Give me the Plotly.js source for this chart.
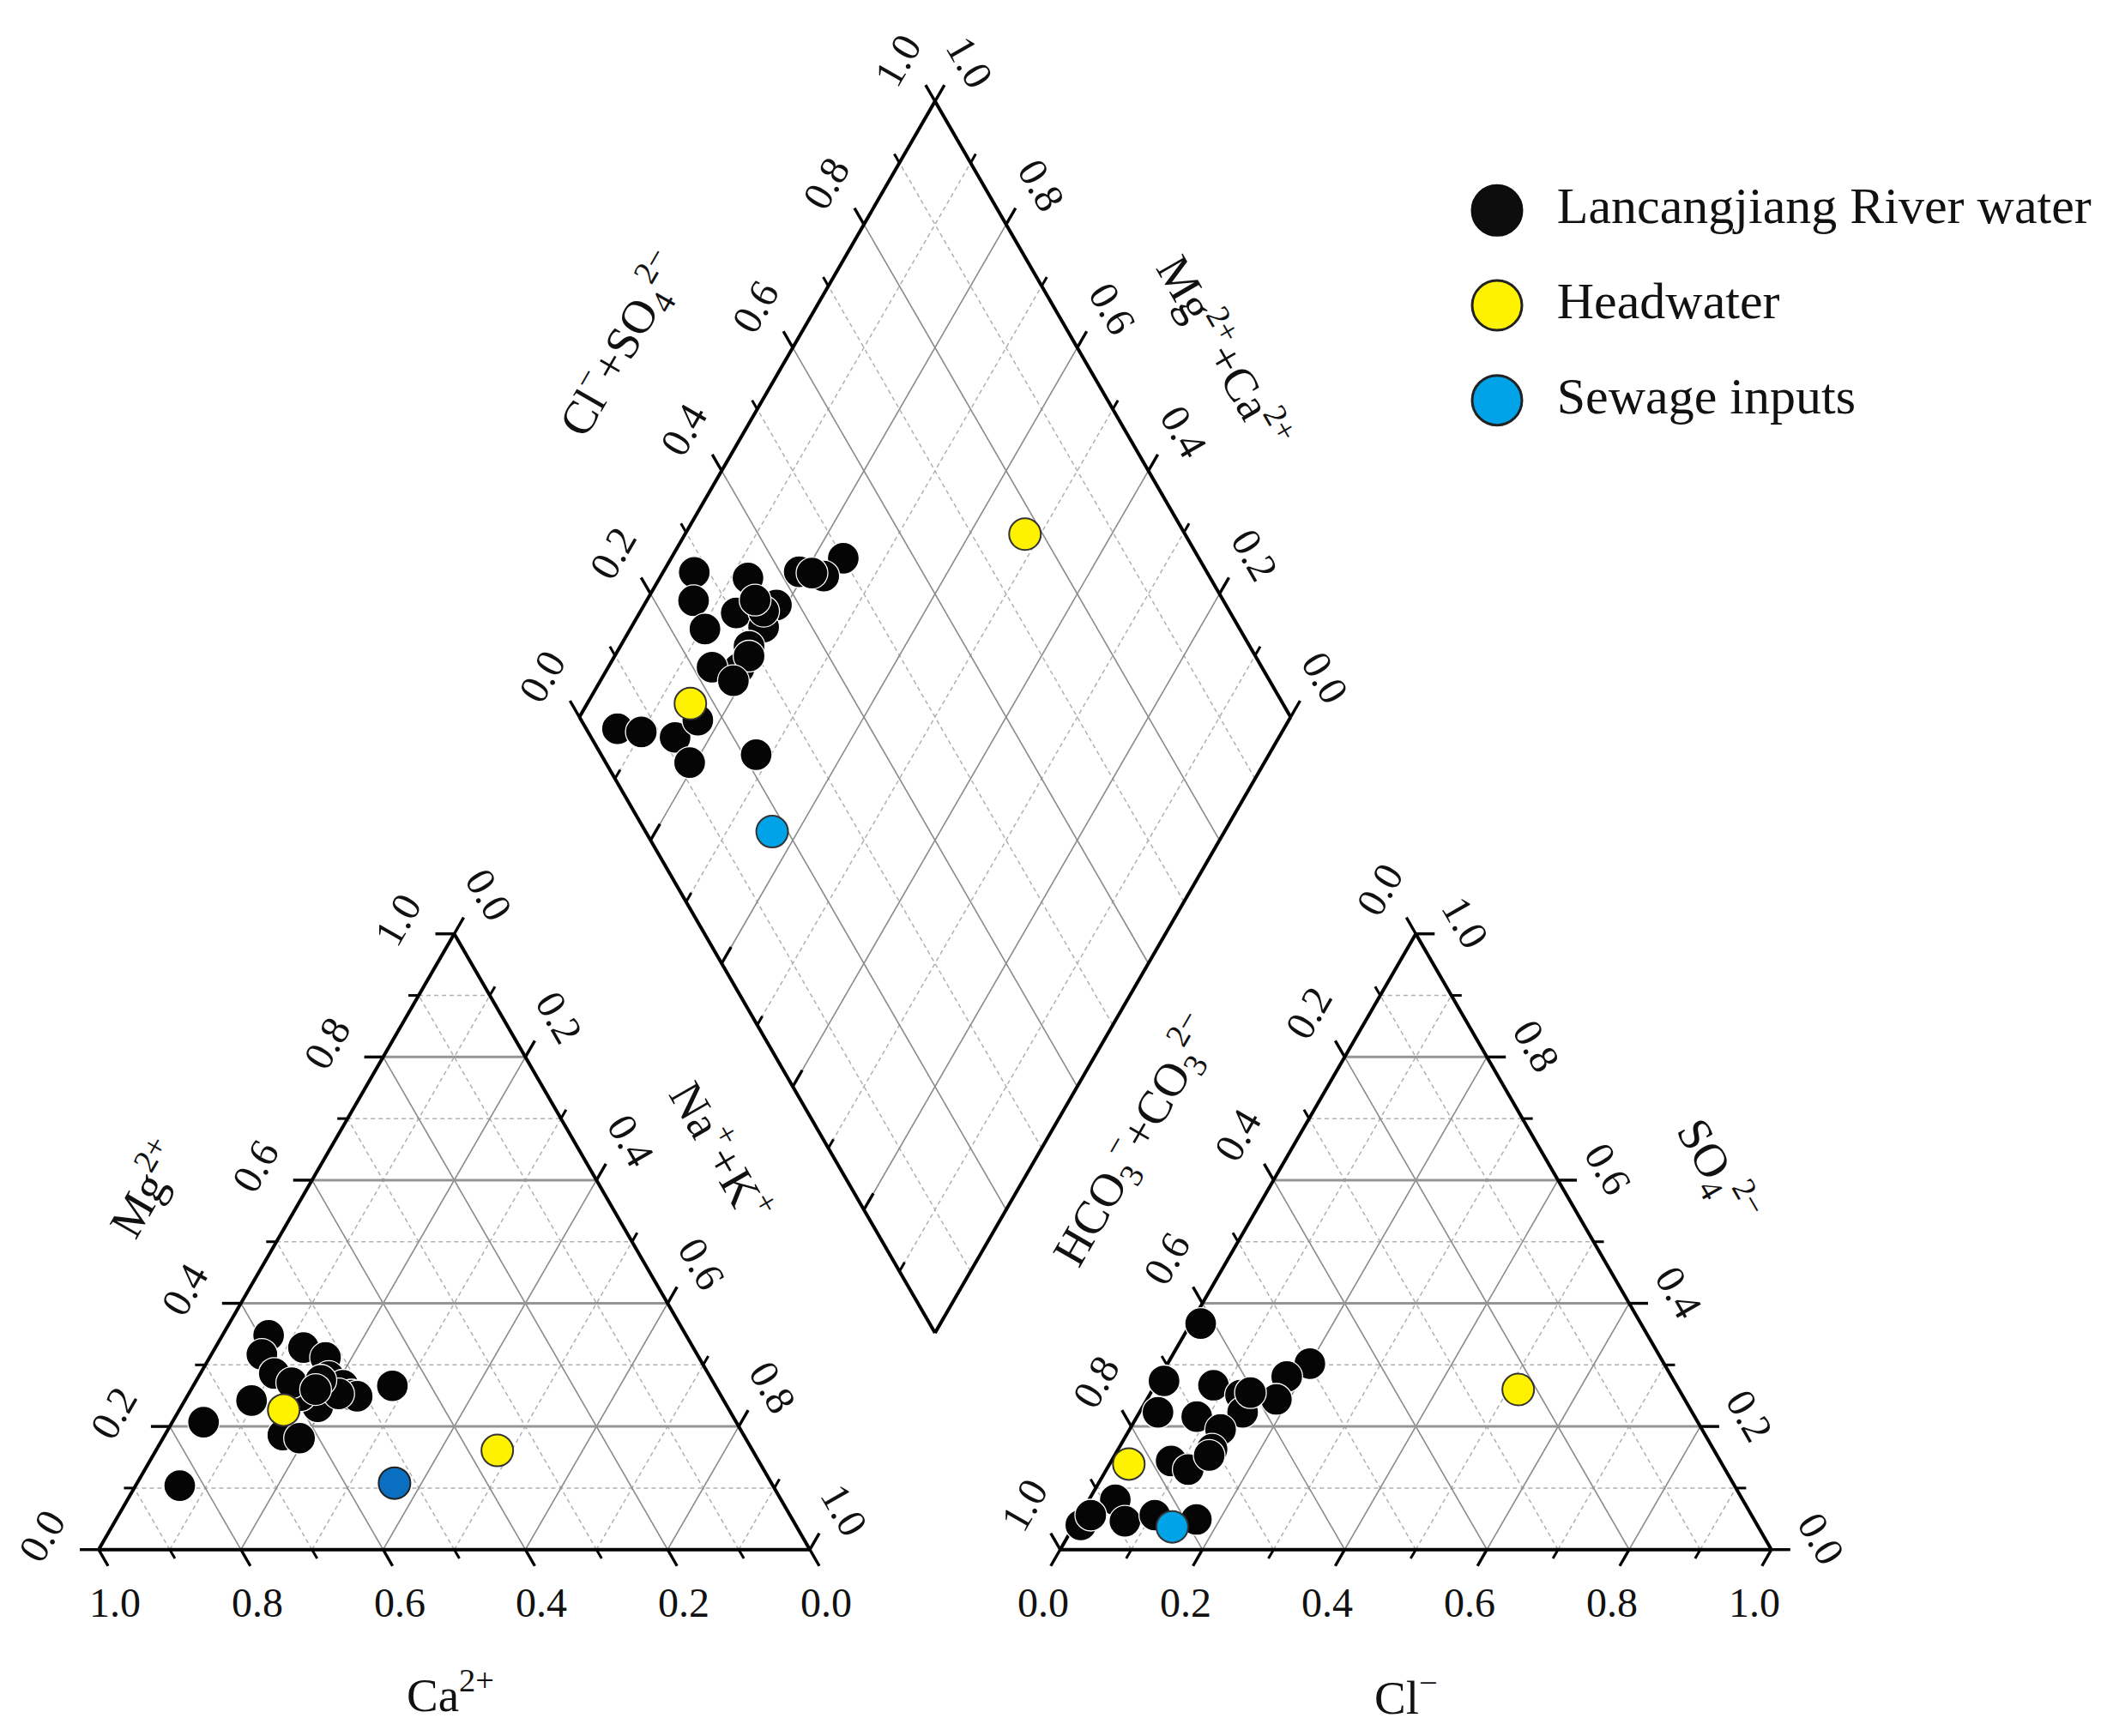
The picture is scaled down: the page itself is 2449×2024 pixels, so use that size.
<!DOCTYPE html>
<html>
<head>
<meta charset="utf-8">
<script src="https://cdn.plot.ly/plotly-3.0.1.min.js"></script>
<style>html,body{margin:0;padding:0;background:#fff;}</style>
</head>
<body>
<div id="chart" style="width:2449px;height:2024px;"></div>
<script>
// ---------------- DATA (percent of meq) ----------------
// Cation triangle: Ca2+, Mg2+, Na+ + K+
const riverCa  = [58.7, 54.8, 61.2, 52.5, 61.0, 53.6, 52.3, 51.9, 51.2, 45.4, 66.4, 57.5, 57.6, 59.1, 74.9, 64.8, 62.7, 83.4, 59.3, 53.6, 55.0, 56.5];
const riverMg  = [34.8, 32.8, 31.7, 31.2, 28.6, 28.1, 26.7, 25.1, 24.9, 26.6, 24.2, 24.3, 23.2, 25.0, 20.7, 18.6, 18.1, 10.4, 27.1, 25.3, 27.5, 26.0];
const riverNaK = [ 6.5, 12.4,  7.1, 16.3, 10.4, 18.3, 21.0, 23.0, 23.9, 28.0,  9.4, 18.2, 19.2, 15.9,  4.4, 16.6, 19.2,  6.2, 13.6, 21.1, 17.5, 17.5];
// Anion triangle: HCO3- + CO3 2-, SO4 2-, Cl-
const riverHCO3 = [61.9, 49.8, 54.1, 57.4, 71.7, 65.1, 62.1, 63.2, 75.1, 70.0, 67.7, 70.5, 77.2, 75.5, 88.2, 88.6, 95.1, 92.9, 83.9, 78.4, 71.4, 60.5];
const riverSO4  = [36.7, 30.2, 28.1, 24.4, 27.4, 26.7, 25.1, 22.3, 22.3, 21.6, 19.5, 16.3, 14.4, 13.0,  8.1,  4.6,  4.0,  5.6,  5.6,  4.9, 15.3, 25.5];
const riverCl   = [ 1.4, 20.0, 17.8, 18.2,  0.9,  8.2, 12.8, 14.5,  2.6,  8.4, 12.8, 13.2,  8.4, 11.5,  3.7,  6.8,  0.9,  1.5, 10.5, 16.7, 13.3, 14.0];
// Diamond: Ca2+ + Mg2+, Cl- + SO4 2-
const riverCaMg  = [81.5, 75.8, 77.1, 80.9, 95.6, 87.6, 81.4, 93.4, 86.4, 81.4, 89.5, 81.9, 81.1, 85.4, 81.3, 93.7, 90.1, 84.9, 83.1, 80.8, 72.1, 82.7, 84.8, 79.0];
const riverClSO4 = [26.4, 50.0, 45.8, 42.7, 27.9, 35.0, 36.8, 25.5, 30.5, 33.2, 24.8, 29.6, 28.8, 22.7, 24.6,  4.4,  7.5, 11.8, 16.4, 11.8, 21.8, 34.5, 34.2, 44.4];

const headCa = [62.7, 35.9], headMg = [22.7, 16.1], headNaK = [14.7, 48.0];
const headHCO3 = [83.4, 22.6], headSO4 = [13.9, 26.0], headCl = [2.7, 51.4];
const headCaMg = [85.5, 52.2], headClSO4 = [16.7, 77.5];

const sewCa = [53.0], sewMg = [10.8], sewNaK = [36.2];
const sewHCO3 = [82.4], sewSO4 = [3.7], sewCl = [13.9];
const sewCaMg = [63.6], sewClSO4 = [17.8];

const seriesNames = ['Lancangjiang River water', 'Headwater', 'Sewage inputs'];
const tickLabels = ['0.0', '0.2', '0.4', '0.6', '0.8', '1.0'];

// ---------------- GEOMETRY ----------------
const H = Math.sqrt(3) / 2;
const G = 0.352;          // gap between triangles (side = 1)
const O = 1 + G;          // x offset of anion triangle
const PX = 829;           // pixels per unit side
const X0 = 115, Y0 = 1806.7;
const FONT = '"Liberation Serif", "Times New Roman", Times, serif';

const Vca = [0, 0], Vmg = [0.5, H], Vnak = [1, 0];
const Vhco3 = [O, 0], Vso4 = [O + 0.5, H], Vcl = [O + 1, 0];
const B = [1 + G / 2, G / 2 * Math.sqrt(3)];
const Ld = [B[0] - 0.5, B[1] + H], T = [B[0], B[1] + 2 * H], Rd = [B[0] + 0.5, B[1] + H];

function bary(V1, w1, V2, w2, V3, w3) {
  return [V1[0] * w1 + V2[0] * w2 + V3[0] * w3, V1[1] * w1 + V2[1] * w2 + V3[1] * w3];
}
function add(p, d, s) { return [p[0] + d[0] * s, p[1] + d[1] * s]; }

function cationPts(ca, mg, nak) {
  const x = [], y = [];
  ca.forEach((c, i) => {
    const t = c + mg[i] + nak[i];
    const p = bary(Vca, c / t, Vmg, mg[i] / t, Vnak, nak[i] / t);
    x.push(p[0]); y.push(p[1]);
  });
  return {x, y};
}
function anionPts(hco3, so4, cl) {
  const x = [], y = [];
  hco3.forEach((h, i) => {
    const t = h + so4[i] + cl[i];
    const p = bary(Vhco3, h / t, Vso4, so4[i] / t, Vcl, cl[i] / t);
    x.push(p[0]); y.push(p[1]);
  });
  return {x, y};
}
function diamondPts(camg, clso4) {
  const x = [], y = [];
  camg.forEach((c, i) => {
    const cc = c / 100, a = clso4[i] / 100;
    x.push(B[0] + 0.5 * (a - cc));
    y.push(B[1] + H * (a + cc));
  });
  return {x, y};
}

// ---------------- LINES ----------------
const L = {dash: {x: [], y: []}, solid: {x: [], y: []}, solidH: {x: [], y: []},
           frame: {x: [], y: []}, tmaj: {x: [], y: []}, tmin: {x: [], y: []}};
function seg(k, p, q) { L[k].x.push(p[0], q[0], null); L[k].y.push(p[1], q[1], null); }

const MAJ = 22 / PX, MIN = 12 / PX;
for (let k = 1; k <= 9; k++) {
  const t = k / 10, even = (k % 2 === 0);
  // cation triangle
  seg(even ? 'solidH' : 'dash', bary(Vmg, t, Vca, 1 - t, Vnak, 0), bary(Vmg, t, Vca, 0, Vnak, 1 - t));
  seg(even ? 'solid' : 'dash', bary(Vca, t, Vnak, 1 - t, Vmg, 0), bary(Vca, t, Vnak, 0, Vmg, 1 - t));
  seg(even ? 'solid' : 'dash', bary(Vnak, t, Vca, 1 - t, Vmg, 0), bary(Vnak, t, Vca, 0, Vmg, 1 - t));
  // anion triangle
  seg(even ? 'solidH' : 'dash', bary(Vso4, t, Vhco3, 1 - t, Vcl, 0), bary(Vso4, t, Vhco3, 0, Vcl, 1 - t));
  seg(even ? 'solid' : 'dash', bary(Vhco3, t, Vcl, 1 - t, Vso4, 0), bary(Vhco3, t, Vcl, 0, Vso4, 1 - t));
  seg(even ? 'solid' : 'dash', bary(Vcl, t, Vhco3, 1 - t, Vso4, 0), bary(Vcl, t, Vhco3, 0, Vso4, 1 - t));
  // diamond
  seg(even ? 'solid' : 'dash', add(B, [0.5, H], t), add(Ld, [0.5, H], t));
  seg(even ? 'solid' : 'dash', add(B, [-0.5, H], t), add(Rd, [-0.5, H], t));
}
// frames
[[Vca, Vnak], [Vnak, Vmg], [Vmg, Vca], [Vhco3, Vcl], [Vcl, Vso4], [Vso4, Vhco3],
 [B, Ld], [Ld, T], [T, Rd], [Rd, B]].forEach(s => seg('frame', s[0], s[1]));

// ticks & labels
const annotations = [];
function lab(p, off, text, angle, size) {
  annotations.push({x: p[0] + off[0] / PX, y: p[1] - off[1] / PX, xref: 'x', yref: 'y', text: text,
    textangle: angle, showarrow: false, xanchor: 'center', yanchor: 'middle',
    font: {family: FONT, size: size || 48, color: '#111'}});
}
function axisTicks(pointFn, dir, off, angle, labelled) {
  for (let k = 0; k <= 10; k++) {
    const t = k / 10, p = pointFn(t), major = (k % 2 === 0);
    seg(major ? 'tmaj' : 'tmin', p, add(p, dir, major ? MAJ : MIN));
    if (labelled && major) lab(p, off, tickLabels[k / 2], angle);
  }
}
// cation
axisTicks(t => bary(Vca, t, Vnak, 1 - t, Vmg, 0), [0.5, -H], [19, 62], 0, true);
axisTicks(t => bary(Vmg, t, Vca, 1 - t, Vnak, 0), [-1, 0], [-66, -16], -60, true);
axisTicks(t => bary(Vnak, t, Vmg, 1 - t, Vca, 0), [0.5, H], [40, -46], 60, true);
// anion
axisTicks(t => bary(Vcl, t, Vhco3, 1 - t, Vso4, 0), [-0.5, -H], [-20, 62], 0, true);
axisTicks(t => bary(Vhco3, t, Vso4, 1 - t, Vcl, 0), [-0.5, H], [-42, -52], -60, true);
axisTicks(t => bary(Vso4, t, Vcl, 1 - t, Vhco3, 0), [1, 0], [58, -13], 60, true);
// diamond
axisTicks(t => add(Ld, [0.5, H], t), [-0.5, H], [-44, -48], -60, true);
axisTicks(t => add(Rd, [-0.5, H], t), [0.5, H], [41, -46], 60, true);
axisTicks(t => add(B, [-0.5, H], t), [0.5, H], [0, 0], 0, false);

// axis titles
function title(px, py, text, angle) {
  annotations.push({x: (px - X0) / PX, y: (Y0 - py) / PX, xref: 'x', yref: 'y', text: text,
    textangle: angle, showarrow: false, xanchor: 'center', yanchor: 'middle',
    font: {family: FONT, size: 55, color: '#111'}});
}
title(525, 1972, 'Ca<sup>2+</sup>', 0);
title(167, 1385, 'Mg<sup>2+</sup>', -60);
title(843, 1341, 'Na<sup>+</sup>+K<sup>+</sup>', 60);
title(1639, 1975, 'Cl<sup>−</sup>', 0);
title(1322, 1330, 'HCO<sub>3</sub><sup>−</sup>+CO<sub>3</sub><sup>2−</sup>', -60);
title(2002, 1365, 'SO<sub>4</sub><sup>2−</sup>', 60);
title(724, 402, 'Cl<sup>−</sup>+SO<sub>4</sub><sup>2−</sup>', -60);
title(1429, 409, 'Mg<sup>2+</sup>+Ca<sup>2+</sup>', 60);

// ---------------- TRACES ----------------
const traces = [];
function lineTrace(k, color, width, dash) {
  traces.push({type: 'scatter', mode: 'lines', x: L[k].x, y: L[k].y, hoverinfo: 'skip', showlegend: false,
    line: {color: color, width: width, dash: dash || 'solid'}, connectgaps: false});
}
lineTrace('dash', '#b0b0b0', 1.5, '5px,4px');
lineTrace('solid', '#8a8a8a', 1.6);
lineTrace('solidH', '#959595', 3);
lineTrace('frame', '#000', 4);
lineTrace('tmaj', '#000', 3.4);
lineTrace('tmin', '#000', 3.0);

function markerTrace(pts, name, color, lineColor, lineWidth) {
  traces.push({type: 'scatter', mode: 'markers', x: pts.x, y: pts.y, name: name, showlegend: false,
    cliponaxis: false,
    marker: {size: 37, color: color, line: {color: lineColor, width: lineWidth}}});
}
markerTrace(cationPts(riverCa, riverMg, riverNaK), seriesNames[0], '#050505', '#ffffff', 1.3);
markerTrace(anionPts(riverHCO3, riverSO4, riverCl), seriesNames[0], '#050505', '#ffffff', 1.3);
markerTrace(diamondPts(riverCaMg, riverClSO4), seriesNames[0], '#050505', '#ffffff', 1.3);
markerTrace(cationPts(headCa, headMg, headNaK), seriesNames[1], '#fff200', '#333', 2);
markerTrace(anionPts(headHCO3, headSO4, headCl), seriesNames[1], '#fff200', '#333', 2);
markerTrace(diamondPts(headCaMg, headClSO4), seriesNames[1], '#fff200', '#333', 2);
markerTrace(cationPts(sewCa, sewMg, sewNaK), seriesNames[2], '#0a6fc0', '#222', 2);
markerTrace(anionPts(sewHCO3, sewSO4, sewCl), seriesNames[2], '#00a2e8', '#333', 2);
markerTrace(diamondPts(sewCaMg, sewClSO4), seriesNames[2], '#00a2e8', '#333', 2);

// legend (custom, on its own axes)
traces.push({type: 'scatter', mode: 'markers', xaxis: 'x2', yaxis: 'y2', x: [0, 0, 0], y: [0, 1, 2],
  hoverinfo: 'skip', showlegend: false, cliponaxis: false,
  marker: {size: 58, color: ['#0d0d0d', '#fff200', '#00a2e8'], line: {color: ['#0d0d0d', '#222', '#222'], width: 3}}});
traces.push({type: 'scatter', mode: 'text', xaxis: 'x2', yaxis: 'y2', x: [1.55, 1.55, 1.55], y: [0, 1, 2],
  text: seriesNames, textposition: 'middle right', hoverinfo: 'skip', showlegend: false, cliponaxis: false,
  textfont: {family: FONT, size: 60, color: '#111'}});

const layout = {
  width: 2449, height: 2024,
  margin: {l: 0, r: 0, t: 0, b: 0, pad: 0},
  paper_bgcolor: '#fff', plot_bgcolor: 'rgba(0,0,0,0)',
  showlegend: false,
  xaxis: {range: [(0 - X0) / PX, (2449 - X0) / PX], visible: false, fixedrange: true, domain: [0, 1]},
  yaxis: {range: [(Y0 - 2024) / PX, Y0 / PX], visible: false, fixedrange: true, domain: [0, 1]},
  xaxis2: {domain: [1700 / 2449, 1], range: [-1, 15.644], visible: false, fixedrange: true, anchor: 'y2'},
  yaxis2: {domain: [1 - 522 / 2024, 1 - 190 / 2024], range: [2.5, -0.5], visible: false, fixedrange: true, anchor: 'x2'},
  annotations: annotations
};

Plotly.newPlot('chart', traces, layout, {displayModeBar: false, staticPlot: true});
</script>
</body>
</html>
